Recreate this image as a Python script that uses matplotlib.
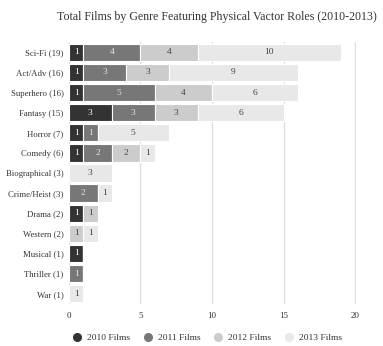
import numpy as np
import matplotlib.pyplot as plt
from matplotlib.lines import Line2D

plt.rcParams['font.family'] = ['Liberation Serif', 'DejaVu Serif']

# Films per genre and year
genres = ['Sci-Fi (19)', 'Act/Adv (16)', 'Superhero (16)', 'Fantasy (15)', 'Horror (7)',
          'Comedy (6)', 'Biographical (3)', 'Crime/Heist (3)', 'Drama (2)', 'Western (2)',
          'Musical (1)', 'Thriller (1)', 'War (1)']
films_2010 = [1, 1, 1, 3, 1, 1, 0, 0, 1, 0, 1, 0, 0]
films_2011 = [4, 3, 5, 3, 1, 2, 0, 2, 0, 0, 0, 1, 0]
films_2012 = [4, 3, 4, 3, 0, 2, 0, 0, 1, 1, 0, 0, 0]
films_2013 = [10, 9, 6, 6, 5, 1, 3, 1, 0, 1, 0, 0, 1]

series = [('2010 Films', films_2010, '#333333', 'white'),
          ('2011 Films', films_2011, '#777777', '#e6e6e6'),
          ('2012 Films', films_2012, '#cccccc', '#444444'),
          ('2013 Films', films_2013, '#e8e8e8', '#444444')]

fig = plt.figure(figsize=(3.83, 3.46), dpi=100)
ax = fig.add_axes([0.180, 0.122, 0.749, 0.756])

y = np.arange(len(genres))
left = np.zeros(len(genres))
for name, vals, color, tcolor in series:
    vals = np.array(vals, dtype=float)
    bars = ax.barh(y, vals, left=left, height=0.86, color=color,
                   edgecolor='white', linewidth=0.8, zorder=2)
    for b, v in zip(bars, vals):
        if v > 0:
            ax.text(b.get_x() + b.get_width() / 2, b.get_y() + b.get_height() / 2,
                    f'{int(v)}', ha='center', va='center', fontsize=6.8, color=tcolor, zorder=3)
    left += vals

ax.set_yticks(y)
ax.set_yticklabels(genres, fontsize=6.3, color='#333333')
ax.set_ylim(len(genres) - 0.5, -0.5)
ax.set_xlim(0, 20.05)
ax.set_xticks([0, 5, 10, 15, 20])
ax.tick_params(axis='x', labelsize=6.5, colors='#333333', length=0, pad=6)
ax.tick_params(axis='y', length=0, pad=4)
ax.grid(axis='x', color='#dddddd', linewidth=0.9, zorder=0)
for s in ax.spines.values():
    s.set_visible(False)

fig.suptitle('Total Films by Genre Featuring Physical Vactor Roles (2010-2013)',
             fontsize=8.6, color='#333333', x=0.567, y=0.968)

handles = [Line2D([0], [0], marker='o', linestyle='', markersize=5.5,
                  markerfacecolor=c, markeredgecolor=c, label=n) for n, _, c, _ in series]
fig.legend(handles=handles, loc='center', bbox_to_anchor=(0.535, 0.023), ncol=4,
           frameon=False, fontsize=6.8, handletextpad=0.05, columnspacing=0.9,
           labelcolor='#333333')

fig.savefig('out.png', dpi=100)
